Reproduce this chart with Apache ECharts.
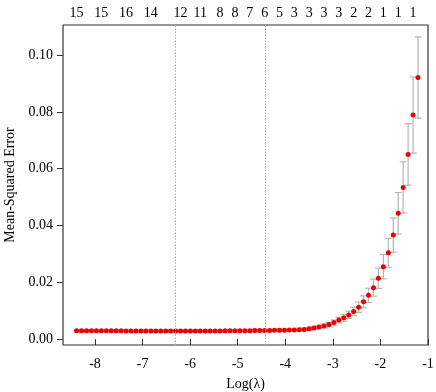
<!DOCTYPE html>
<html>
<head>
<meta charset="utf-8">
<title>CV MSE</title>
<script src="https://cdn.jsdelivr.net/npm/echarts@6.0.0/dist/echarts.min.js"></script>
<style>
  html, body { margin: 0; padding: 0; background: #fff; }
  #chart { width: 436px; height: 392px; }
</style>
</head>
<body>
<div id="chart"></div>
<script>
// log(lambda) of each fit, left to right
const logLambda = [
  -8.386, -8.282, -8.178, -8.074, -7.970, -7.866, -7.762, -7.658, -7.554, -7.450,
  -7.346, -7.242, -7.138, -7.034, -6.930, -6.826, -6.722, -6.618, -6.514, -6.410,
  -6.306, -6.202, -6.098, -5.994, -5.890, -5.786, -5.682, -5.578, -5.474, -5.370,
  -5.266, -5.162, -5.058, -4.954, -4.850, -4.746, -4.642, -4.538, -4.434, -4.330,
  -4.226, -4.122, -4.018, -3.914, -3.810, -3.706, -3.602, -3.498, -3.394, -3.290,
  -3.186, -3.082, -2.978, -2.874, -2.770, -2.666, -2.562, -2.458, -2.354, -2.250,
  -2.146, -2.042, -1.938, -1.834, -1.730, -1.626, -1.522, -1.418, -1.314, -1.210
];

// cross-validated mean squared error
const mse = [
  0.0029, 0.0029, 0.0029, 0.0029, 0.0029, 0.0029, 0.0029, 0.0029, 0.0029, 0.0029,
  0.0028, 0.0028, 0.0028, 0.0028, 0.0028, 0.0028, 0.0028, 0.0028, 0.0028, 0.0028,
  0.0028, 0.0028, 0.0028, 0.0028, 0.0028, 0.0028, 0.0028, 0.0028, 0.0028, 0.0028,
  0.0029, 0.0029, 0.0029, 0.0029, 0.0029, 0.0029, 0.0030, 0.0030, 0.0030, 0.0030,
  0.0031, 0.0031, 0.0031, 0.0032, 0.0032, 0.0033, 0.0034, 0.0036, 0.0039, 0.0042,
  0.0046, 0.0051, 0.0058, 0.0067, 0.0075, 0.0085, 0.0097, 0.0112, 0.0131, 0.0154,
  0.0181, 0.0214, 0.0255, 0.0304, 0.0366, 0.0443, 0.0534, 0.0650, 0.0789, 0.0921
];

// standard error (half length of each bar)
const mseSe = [
  0.0004, 0.0004, 0.0004, 0.0004, 0.0004, 0.0004, 0.0004, 0.0004, 0.0004, 0.0004,
  0.0004, 0.0004, 0.0004, 0.0004, 0.0004, 0.0004, 0.0004, 0.0004, 0.0004, 0.0004,
  0.0004, 0.0004, 0.0004, 0.0004, 0.0004, 0.0004, 0.0004, 0.0004, 0.0004, 0.0004,
  0.0004, 0.0004, 0.0004, 0.0004, 0.0004, 0.0004, 0.0004, 0.0004, 0.0004, 0.0004,
  0.0004, 0.0004, 0.0004, 0.0004, 0.0004, 0.0005, 0.0005, 0.0005, 0.0005, 0.0006,
  0.0007, 0.0008, 0.0009, 0.0010, 0.0012, 0.0013, 0.0015, 0.0018, 0.0021, 0.0025,
  0.0030, 0.0036, 0.0043, 0.0051, 0.0060, 0.0073, 0.0090, 0.0108, 0.0134, 0.0143
];

const xTicks = [-8, -7, -6, -5, -4, -3, -2, -1];
const yTicks = [0, 0.02, 0.04, 0.06, 0.08, 0.10];

// number of non-zero coefficients shown on the top axis
const nzIdx = [0, 5, 10, 15, 21, 25, 29, 32, 35, 38, 41, 44, 47, 50, 53, 56, 59, 62, 65, 68];
const nzLabels = ['15', '15', '16', '14', '12', '11', '8', '8', '7', '6', '5', '3', '3', '3', '3', '2', '2', '1', '1', '1'];

const lambdaMinIdx = 20;
const lambda1seIdx = 38;

const font = "'Liberation Serif', 'Times New Roman', serif";
const topAt = nzIdx.map(i => logLambda[i]);

const points = logLambda.map((x, i) => [x, mse[i]]);
const bars = logLambda.map((x, i) => [x, mse[i] - mseSe[i], mse[i] + mseSe[i]]);

const chart = echarts.init(document.getElementById('chart'));

const option = {
    backgroundColor: '#fff',
    animation: false,
    grid: {
        left: 63,
        right: 8,
        top: 25,
        bottom: 47,
        outerBoundsMode: 'none',
        containLabel: false,
        show: true,
        borderColor: '#333',
        borderWidth: 1.2,
        backgroundColor: 'transparent'
    },
    xAxis: [{
        type: 'value',
        position: 'bottom',
        min: -8.672,
        max: -1.0,
        name: 'Log(λ)',
        nameLocation: 'middle',
        nameGap: 32,
        nameTextStyle: { fontFamily: font, fontSize: 14, color: '#000' },
        axisLine: { show: false },
        axisTick: { show: true, length: 6, customValues: xTicks, lineStyle: { color: '#333' } },
        axisLabel: {
            customValues: xTicks,
            margin: 12,
            fontFamily: font,
            fontSize: 14,
            color: '#000'
        },
        splitLine: { show: false }
    }, {
        type: 'value',
        position: 'top',
        min: -8.672,
        max: -1.0,
        axisLine: { show: false },
        axisTick: { show: false },
        axisLabel: {
            customValues: topAt,
            margin: 5,
            fontFamily: font,
            fontSize: 14,
            color: '#000',
            formatter: v => {
                const k = topAt.findIndex(a => Math.abs(a - v) < 1e-6);
                return k >= 0 ? nzLabels[k] : '';
            }
        },
        splitLine: { show: false }
    }],
    yAxis: {
        type: 'value',
        min: -0.0021,
        max: 0.1106,
        name: 'Mean-Squared Error',
        nameLocation: 'middle',
        nameGap: 46,
        nameTextStyle: { fontFamily: font, fontSize: 14, color: '#000' },
        axisLine: { show: false },
        axisTick: { show: true, length: 6, customValues: yTicks, lineStyle: { color: '#333' } },
        axisLabel: {
            customValues: yTicks,
            margin: 10,
            fontFamily: font,
            fontSize: 14,
            color: '#000',
            formatter: v => v.toFixed(2)
        },
        splitLine: { show: false }
    },
    series: [{
        type: 'custom',
        name: 'se',
        data: bars,
        z: 2,
        renderItem: (params, api) => {
            const lo = api.coord([api.value(0), api.value(1)]);
            const hi = api.coord([api.value(0), api.value(2)]);
            const cap = 3.5;
            const style = { stroke: '#b5b5b5', lineWidth: 1.2 };
            return {
                type: 'group',
                children: [
                    { type: 'line', shape: { x1: lo[0], y1: lo[1], x2: hi[0], y2: hi[1] }, style },
                    { type: 'line', shape: { x1: hi[0] - cap, y1: hi[1], x2: hi[0] + cap, y2: hi[1] }, style },
                    { type: 'line', shape: { x1: lo[0] - cap, y1: lo[1], x2: lo[0] + cap, y2: lo[1] }, style }
                ]
            };
        }
    }, {
        type: 'scatter',
        name: 'mse',
        data: points,
        z: 3,
        symbol: 'circle',
        symbolSize: 5,
        itemStyle: { color: '#ee0000', opacity: 1 },
        markLine: {
            silent: true,
            symbol: 'none',
            label: { show: false },
            lineStyle: { color: '#aaaaaa', type: [1.5, 1.5], width: 1 },
            data: [
                { xAxis: logLambda[lambdaMinIdx] },
                { xAxis: logLambda[lambda1seIdx] }
            ]
        }
    }]
};

chart.setOption(option);
</script>
</body>
</html>
